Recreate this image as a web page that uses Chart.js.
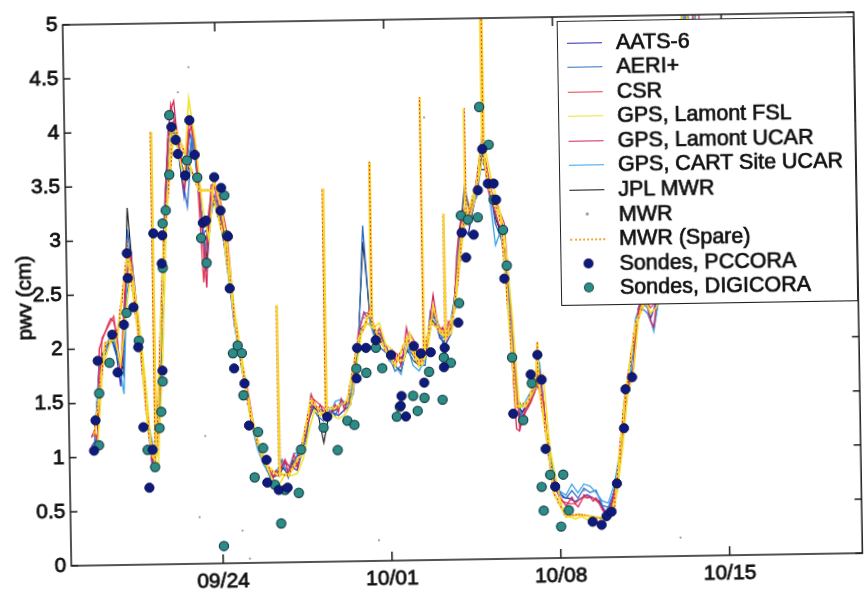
<!DOCTYPE html>
<html><head><meta charset="utf-8">
<script src="https://cdn.jsdelivr.net/npm/chart.js@4.4.1/dist/chart.umd.min.js"></script>
<style>
html,body{margin:0;padding:0;background:#fff;overflow:hidden;width:864px;height:589px;}
#wrap{position:absolute;left:0;top:0;width:864px;height:589px;transform:rotate(-0.92deg);transform-origin:432px 294px;}
#c{position:absolute;left:0;top:0;}
#legend{position:absolute;left:561px;top:23px;width:297px;height:285px;box-sizing:border-box;border:1.5px solid #222;background:#fff;font-family:"Liberation Sans",Arial,Helvetica,sans-serif;font-size:21.5px;color:#111;padding-top:8.5px;-webkit-text-stroke:0.7px #111;}
.row{height:24.6px;line-height:24.6px;position:relative;white-space:nowrap;}
.samp{position:absolute;left:9px;top:12px;width:35px;height:0;}
.dot{position:absolute;border-radius:50%;}
.txt{position:absolute;left:58px;top:0;}
</style></head><body>
<div id="wrap"><canvas id="c" width="864" height="589"></canvas><div id="legend"></div></div>
<script>
// ---------- axis / labels ----------
const xTickDays = [267, 274, 281, 288];          // day of year
const xTickLabels = ['09/24', '10/01', '10/08', '10/15'];
const yTickValues = [0, 0.5, 1, 1.5, 2, 2.5, 3, 3.5, 4, 4.5, 5];
const yTitle = 'pwv (cm)';
const seriesNames = ['AATS-6', 'AERI+', 'CSR', 'GPS, Lamont FSL', 'GPS, Lamont UCAR',
  'GPS, CART Site UCAR', 'JPL MWR', 'MWR', 'MWR (Spare)', 'Sondes, PCCORA', 'Sondes, DIGICORA'];

// ---------- regularly sampled series (start day, sampling step in days) ----------
const evenStart = 261.625, oddStart = 261.75, step6h = 0.25, step3h = 0.125;

const ucarPwv = [1.18,1.25,1.15,2.0,2.08,2.15,2.22,2.28,2.25,2.1,
 1.75,2.05,2.55,2.95,2.78,2.55,2.28,2.0,1.65,1.28,
 0.95,0.93,1.2,1.7,2.4,3.0,3.5,3.98,4.2,4.28,
 3.95,3.8,3.45,3.72,4.0,4.05,3.8,3.5,2.95,2.55,
 3.15,3.5,3.5,3.35,3.25,3.05,2.85,2.55,2.25,2.1,
 1.9,1.72,1.55,1.35,1.2,1.1,1.02,0.95,0.88,0.82,
 0.78,0.85,0.8,0.9,0.95,0.82,0.9,1.0,0.88,1.0,
 1.08,1.18,1.35,1.55,1.48,1.4,1.45,1.38,1.42,1.35,
 1.4,1.45,1.38,1.5,1.4,1.5,1.45,1.62,1.9,2.1,
 2.2,2.3,2.25,2.35,2.2,2.1,2.15,2.05,2.0,1.92,
 1.95,1.85,1.9,1.8,1.95,2.15,2.0,1.9,1.95,1.85,
 1.9,1.95,2.05,2.25,2.45,2.25,2.1,2.15,2.05,2.2,
 2.15,2.35,2.8,3.05,3.2,3.25,3.1,3.2,3.35,3.5,
 3.7,3.9,3.6,3.4,3.3,3.2,3.1,3.05,2.8,2.3,
 1.75,1.2,1.18,1.3,1.38,1.42,1.48,1.52,1.6,1.72,
 1.45,1.08,0.85,0.72,0.62,0.55,0.52,0.48,0.52,0.56,
 0.5,0.47,0.52,0.58,0.55,0.56,0.52,0.55,0.5,0.44,
 0.4,0.43,0.48,0.6,0.7,0.88,1.18,1.45,1.58,1.66,
 1.72,2.1,2.28,2.36,2.4,2.33,2.18,2.12,2.32,2.38,
 2.55,2.9,3.2,3.5,3.8,4.0,4.3,4.6,5.1,5.3,4.8,4.7,5.2,5.3,4.8];

const fslPwv = [1.05,1.1,1.82,2.0,2.15,1.85,2.3,2.75,2.35,1.75,
 1.0,0.92,1.9,3.2,4.05,3.85,3.55,4.3,3.9,3.3,
 3.0,3.55,3.3,2.95,2.35,1.95,1.55,1.25,1.05,0.88,
 0.75,0.72,0.82,0.8,0.82,0.95,1.2,1.4,1.35,1.4,
 1.35,1.32,1.35,1.45,1.75,2.1,2.2,2.15,2.2,2.0,
 1.95,1.85,1.85,2.1,1.9,1.8,1.95,2.35,2.1,2.05,
 2.1,2.6,3.1,3.1,3.3,3.55,3.8,3.5,3.3,3.0,
 2.3,1.4,1.4,1.5,1.62,1.7,1.0,0.7,0.42,0.38,
 0.36,0.38,0.35,0.37,0.36,0.35,0.42,0.6,1.0,1.5,
 1.7,2.2,2.4,2.25,2.3,2.5,3.1,3.7,4.2,5.0,
 5.2,5.0,5.3];

const aatsPwv = [1.1,1.18,1.95,2.05,2.1,1.65,2.45,2.7,2.15,1.55,
 0.9,1.3,2.5,3.4,4.0,3.85,3.4,4.0,3.7,3.05,
 3.1,3.4,3.15,2.75,2.2,1.85,1.5,1.2,1.0,0.85,
 0.8,0.8,0.92,0.88,0.85,1.05,1.3,1.45,1.4,1.38,
 1.38,1.35,1.4,1.45,1.85,2.15,2.2,2.15,2.1,1.95,
 1.9,1.85,1.9,1.95,1.9,1.85,2.0,2.3,2.05,2.0,
 2.1,2.7,3.1,3.0,3.3,3.6,3.6,3.3,3.1,2.85,
 1.9,1.32,1.4,1.5,1.65,1.4,0.82,0.66,0.56,0.55,
 0.52,0.55,0.58,0.55,0.52,0.42,0.5,0.72,1.2,1.6,
 1.75,2.3,2.42,2.2,2.35,2.6];

const csrPwv = [1.2,1.2,2.1,2.2,2.3,1.8,2.6,2.85,2.3,1.7,
 0.95,1.2,2.4,3.55,4.25,4.0,3.5,4.1,3.85,2.6,
 3.25,3.55,3.35,3.05,2.3,1.9,1.6,1.25,1.05,0.9,
 0.8,0.82,0.95,0.85,0.9,1.1,1.3,1.5,1.45,1.4,
 null,null,null,null,null,null,null,null,null,null,
 1.95,1.9,1.85,2.1,2.0,1.85,2.0,2.3,2.15,2.05,
 2.15,2.6,3.15,3.15,3.35,3.65,3.7,3.4,3.25,3.1,
 2.2,1.2,1.35,1.45,1.6,1.45,
 0.85,0.62,0.52,0.5,0.5,0.55,0.56,0.55,0.5,0.4,
 0.47,0.65,1.1,1.55,1.7,2.25,2.4,2.3,2.35,2.5];

const cartPwv = [1.2,1.82,2.0,2.15,1.98,1.58,2.95,2.45,1.9,1.3,
 1.0,1.6,2.95,3.9,4.0,3.7,3.6,4.0,3.4,2.9,
 3.4,3.25,2.95,2.45,2.0,1.65,1.3,1.05,0.9,0.82,
 0.85,0.9,0.85,1.0,1.02,1.2,1.52,1.42,1.4,1.35,
 1.48,1.5,1.45,1.65,2.1,2.3,2.28,2.1,2.05,1.85,
 1.8,1.72,2.0,1.8,1.75,1.85,2.2,2.15,2.05,2.1,
 2.35,3.05,3.2,3.2,3.4,3.8,3.4,2.9,3.05,2.45,
 1.5,1.4,1.5,1.6,1.8,1.1,0.75,0.62,0.58,0.68,
 0.6,0.68,0.66,0.6,0.52,0.5,0.66,0.95,1.5,1.7,
 2.2,2.35,2.3,2.08,2.42,2.9,3.5,3.9,4.5,5.2,
 4.8,5.25];

const aeriPwv = [1.12,1.9,1.95,2.1,1.9,1.75,3.1,2.6,2.0,1.2,
 0.98,1.5,3.1,4.0,4.1,3.65,3.3,3.95,3.5,2.7,
 3.3,3.35,3.1,2.55,2.05,1.7,1.35,1.1,0.95,0.78,
 0.8,0.95,0.78,0.92,1.05,1.1,1.45,1.35,1.3,1.4,
 1.35,1.5,1.4,1.55,2.0,3.1,2.2,2.0,1.95,1.9,
 1.75,1.8,1.95,1.9,1.8,1.8,2.3,2.2,2.0,2.1,
 2.4,2.95,3.1,3.25,3.35,3.7,3.5,3.1,2.95,2.5,
 1.45,1.32,1.4,1.55,1.7,1.15,0.78,0.6,0.55,0.62,
 0.55,0.64,0.6,0.62,0.48,0.46,0.6,0.92,1.4,1.68,
 2.1,2.3,2.25,2.1,2.4,2.8,3.4,3.9,4.4,5.0,
 4.7,5.1];

const jplPwv = [1.15,1.85,2.0,2.1,1.95,1.8,3.3,2.55,1.95,1.25,
 0.95,1.55,3.0,3.95,4.05,3.7,3.55,4.0,3.45,2.8,
 3.35,3.3,3.0,2.5,2.05,1.7,1.35,1.1,0.92,0.8,
 0.8,0.88,0.82,0.95,1.0,1.15,1.45,1.4,1.1,1.38,
 1.4,1.45,1.45,1.6,2.05,2.95,2.25,2.05,2.0,1.9,
 1.8,1.75,1.95,1.85,1.8,1.9,2.25,2.15,2.05,2.1,
 2.35,2.95,3.45,3.15,3.4,3.75,3.5,3.15,3.0,2.45,
 1.45,1.35,1.45,1.6,1.75];

// ---------- irregular series (day of year, pwv cm) ----------
const spareDay = [261.75,262.25,262.75,263.25,263.75,264.0,264.26,264.28,264.30,264.75,
 265.25,265.75,266.25,266.75,267.25,267.75,268.25,268.75,269.25,269.37,
 269.39,269.41,269.75,270.25,270.75,271.25,271.35,271.37,271.39,271.75,
 272.25,272.75,273.25,273.29,273.31,273.33,273.75,274.25,274.75,275.25,
 275.43,275.45,275.47,275.75,276.25,276.34,276.36,276.38,276.75,277.25,
 277.27,277.29,277.75,277.99,278.01,278.03,278.06,278.08,278.25,278.75,
 279.25,279.75,280.1,280.16,280.2,280.5,280.75,281.25,281.75,282.25,
 282.75,283.25,283.75,284.25,284.75,285.25,285.75,286.25,286.75];
const sparePwv = [1.2,2.05,2.1,2.9,1.9,1.2,0.95,4.0,1.0,3.0,
 4.05,3.75,3.45,3.45,3.0,2.05,1.32,0.92,0.82,0.8,
 2.38,0.82,0.8,0.98,1.5,1.35,1.4,3.45,1.42,1.42,
 1.48,2.05,2.3,2.25,3.69,2.2,2.0,1.8,2.05,1.8,
 1.9,4.28,1.92,2.2,2.1,2.05,3.2,2.05,2.3,3.2,
 4.17,3.15,3.45,3.85,5.5,3.9,5.5,3.7,3.45,3.1,
 1.4,1.45,1.7,2.0,1.6,1.1,0.6,0.38,0.4,0.38,
 0.36,0.45,1.45,2.15,2.4,2.45,3.3,4.5,5.2];

const mwrDay = [262.0,263.0,264.0,265.0,265.43,265.89,266.0,266.05,266.34,267.0,
 267.82,268.0,268.11,269.0,270.0,271.0,272.0,273.0,273.47,274.0,
 275.0,275.62,276.0,277.0,278.0,279.0,280.0,281.0,282.0,283.0,284.0,285.97];
const mwrPwv = [1.85,2.0,1.25,3.95,4.36,4.59,4.1,0.43,1.18,3.3,
 0.30,1.68,0.04,0.8,0.95,1.38,1.45,2.25,0.19,1.88,
 1.85,4.09,2.2,3.0,3.85,2.4,1.55,0.58,0.62,0.45,1.68,0.17];

const pccoraDay = [261.72,261.80,261.93,262.55,262.75,263.04,263.21,263.23,263.45,263.62,
 263.78,263.99,264.15,264.32,264.61,264.65,264.69,265.14,265.31,265.39,
 265.68,265.89,266.09,266.38,266.51,266.88,267.12,267.16,267.41,267.45,
 267.58,268.00,268.16,268.86,268.88,269.35,269.72,271.41,272.65,272.69,
 273.06,273.47,274.09,274.46,274.50,274.67,275.04,275.33,275.45,275.74,
 276.28,276.32,276.90,277.10,277.27,277.60,277.80,278.01,278.22,278.46,
 278.55,278.84,279.12,279.87,280.16,280.32,280.44,280.81,282.34,282.71,
 282.92,283.13,283.37,283.70,283.79,284.07];
const pccoraPwv = [1.06,1.34,1.89,2.13,1.78,2.22,2.88,2.65,2.38,2.01,
 1.27,0.71,1.06,3.06,1.79,2.78,3.04,4.04,3.92,3.79,
 3.59,4.10,3.78,3.15,3.17,3.57,3.26,3.47,3.02,2.54,
 1.80,1.66,1.27,0.95,0.74,0.67,0.69,1.34,1.69,1.97,
 1.97,2.04,1.90,1.43,1.52,1.33,1.98,1.91,1.64,1.92,
 1.78,1.96,2.19,3.02,2.79,3.00,3.41,3.79,3.47,3.47,
 3.32,2.59,1.34,1.70,1.88,1.65,1.01,0.66,0.33,0.30,
 0.38,0.42,0.68,1.19,1.55,1.66];

const digicoraDay = [261.93,261.97,262.42,263.16,263.65,263.94,264.24,264.45,264.53,264.61,
 264.69,264.71,264.85,265.02,265.06,265.76,266.18,266.30,266.51,267.04,
 267.29,267.37,267.54,267.74,267.91,267.95,268.36,268.53,268.73,269.19,
 269.43,269.61,270.18,270.30,271.25,271.82,272.24,272.53,272.65,273.06,
 273.47,273.72,274.29,274.42,274.98,275.16,275.45,275.66,276.20,276.28,
 276.57,276.95,277.08,277.37,277.78,277.91,278.28,278.45,278.82,278.95,
 279.11,279.53,279.91,280.25,280.32,280.61,281.03,281.15,281.36];
const digicoraPwv = [1.11,1.59,1.87,2.33,2.07,1.06,0.90,1.26,1.41,1.69,
 2.74,3.15,3.27,3.60,4.15,3.73,3.57,3.01,2.78,0.16,
 3.40,3.03,1.94,2.01,1.94,1.55,0.79,1.21,1.06,0.72,
 0.36,0.67,0.64,1.04,1.24,1.03,1.30,1.26,1.78,1.74,
 1.97,1.78,1.33,1.42,1.52,1.38,1.50,1.74,1.48,1.87,
 1.82,2.37,3.18,3.14,3.16,4.18,3.83,3.32,3.04,2.71,
 1.86,1.28,1.62,0.66,0.44,0.77,0.29,0.77,0.44];

// ---------- helpers ----------
const seq = (start, step, vals) => vals.map((v, i) => ({x: start + i * step, y: v}));
const pairs = (ts, vs) => ts.map((t, i) => ({x: t, y: vs[i]}));

const COL = {
  aats: '#2a2ab4', aeri: '#2e6ec6', csr: '#ec3c4c', fsl: '#f3e12c', ucar: '#d4245a',
  cart: '#38a2e8', jpl: '#111111', mwr: '#9a9a9a', spare: '#f0a83a', pcc: '#0f1b7c', dig: '#2e8c86'
};

const canvas = document.getElementById('c');
const ctx0 = canvas.getContext('2d');
// MWR (Spare) stroke: yellow with a red dotted edge, as printed
const pc = document.createElement('canvas'); pc.width = 3; pc.height = 4;
const pg = pc.getContext('2d');
pg.fillStyle = '#f4d62a'; pg.fillRect(0, 0, 3, 4);
pg.fillStyle = '#e8384e'; pg.fillRect(2, 0, 1, 2);
const sparePattern = ctx0.createPattern(pc, 'repeat');

const lineDs = (label, data, color, extra) => Object.assign({
  label, data, borderColor: color, backgroundColor: color, borderWidth: 1.3,
  pointRadius: 0, tension: 0, fill: false, spanGaps: false
}, extra || {});

const datasets = [
  {label: seriesNames[9], data: pairs(pccoraDay, pccoraPwv), showLine: false,
   pointRadius: 4.6, pointBackgroundColor: COL.pcc, pointBorderColor: '#0a1152', pointBorderWidth: 1},
  {label: seriesNames[10], data: pairs(digicoraDay, digicoraPwv), showLine: false,
   pointRadius: 4.6, pointBackgroundColor: COL.dig, pointBorderColor: '#16404a', pointBorderWidth: 1.2},
  {label: seriesNames[7], data: pairs(mwrDay, mwrPwv), showLine: false,
   pointRadius: 1.1, pointBackgroundColor: COL.mwr, pointBorderWidth: 0},
  lineDs(seriesNames[8], pairs(spareDay, sparePwv), sparePattern, {borderWidth: 2.4}),
  lineDs(seriesNames[3], seq(evenStart, step6h, fslPwv), COL.fsl, {borderWidth: 1.6}),
  lineDs(seriesNames[4], seq(evenStart, step3h, ucarPwv), COL.ucar),
  lineDs(seriesNames[2], seq(evenStart, step6h, csrPwv), COL.csr),
  lineDs(seriesNames[5], seq(oddStart, step6h, cartPwv), COL.cart),
  lineDs(seriesNames[1], seq(oddStart, step6h, aeriPwv), COL.aeri),
  lineDs(seriesNames[0], seq(evenStart, step6h, aatsPwv), COL.aats),
  lineDs(seriesNames[6], seq(oddStart, step6h, jplPwv), COL.jpl, {borderWidth: 1.1})
];

const FONT = '"Liberation Sans", Arial, Helvetica, sans-serif';

const boxPlugin = {
  id: 'box',
  afterDatasetsDraw(chart) {
    const {ctx, chartArea: a, scales: {x, y}} = chart;
    ctx.save();
    ctx.strokeStyle = '#1a1a1a'; ctx.lineWidth = 1.5;
    ctx.strokeRect(a.left, a.top, a.right - a.left, a.bottom - a.top);
    ctx.beginPath();
    x.ticks.forEach(t => {
      const px = x.getPixelForValue(t.value);
      ctx.moveTo(px, a.bottom); ctx.lineTo(px, a.bottom - 9);
      ctx.moveTo(px, a.top); ctx.lineTo(px, a.top + 9);
    });
    y.ticks.forEach(t => {
      const py = y.getPixelForValue(t.value);
      ctx.moveTo(a.left, py); ctx.lineTo(a.left + 7, py);
      ctx.moveTo(a.right, py); ctx.lineTo(a.right - 7, py);
    });
    ctx.stroke();
    // y-axis title
    ctx.translate(25.5, (a.top + a.bottom) / 2 + 2);
    ctx.rotate(-Math.PI / 2);
    ctx.font = '21px ' + FONT;
    ctx.textAlign = 'center'; ctx.textBaseline = 'middle';
    ctx.fillStyle = '#111'; ctx.strokeStyle = '#111'; ctx.lineWidth = 0.8;
    ctx.fillText(yTitle, 0, 0); ctx.strokeText(yTitle, 0, 0);
    ctx.restore();
  }
};

const tickFont = {family: FONT, size: 21};
new Chart(canvas, {
  type: 'line',
  data: {datasets},
  options: {
    responsive: false, animation: false, devicePixelRatio: 1, events: [],
    layout: {padding: {left: 0, right: 2, top: 19, bottom: 0}},
    plugins: {legend: {display: false}, tooltip: {enabled: false}},
    scales: {
      x: {
        type: 'linear', min: 260.7, max: 293.5,
        grid: {display: false, drawTicks: false, tickLength: 0}, border: {display: false},
        afterBuildTicks: s => { s.ticks = xTickDays.map(v => ({value: v})); },
        afterFit: s => { s.height = 29; },
        ticks: {
          autoSkip: false, maxRotation: 0, padding: 6, color: '#111', font: tickFont,
          textStrokeColor: '#111', textStrokeWidth: 0.8,
          callback: v => { const k = xTickDays.indexOf(v); return k >= 0 ? xTickLabels[k] : ''; }
        }
      },
      y: {
        type: 'linear', min: 0, max: 5,
        grid: {display: false, drawTicks: false, tickLength: 0}, border: {display: false},
        afterBuildTicks: s => { s.ticks = yTickValues.map(v => ({value: v})); },
        afterFit: s => { s.width = 67; },
        ticks: {padding: 5, color: '#111', font: tickFont, textStrokeColor: '#111', textStrokeWidth: 0.8,
                callback: v => String(v)}
      }
    }
  },
  plugins: [boxPlugin]
});

// ---------- legend (inside the axes, upper right) ----------
const legendStyle = [
  {line: COL.aats}, {line: COL.aeri}, {line: COL.csr}, {line: COL.fsl}, {line: COL.ucar},
  {line: COL.cart}, {line: COL.jpl}, {dot: COL.mwr, r: 1.2}, {dotted: COL.spare},
  {dot: COL.pcc, r: 4, edge: '#0a1152'}, {dot: COL.dig, r: 4, edge: '#16404a'}
];
const leg = document.getElementById('legend');
seriesNames.forEach((name, i) => {
  const st = legendStyle[i];
  const row = document.createElement('div'); row.className = 'row';
  const s = document.createElement('div'); s.className = 'samp';
  if (st.line) s.style.borderTop = '1.4px solid ' + st.line;
  if (st.dotted) s.style.borderTop = '2px dotted ' + st.dotted;
  if (st.dot) {
    const d = document.createElement('div'); d.className = 'dot';
    d.style.width = d.style.height = (st.r * 2) + 'px';
    d.style.left = (17.5 - st.r) + 'px'; d.style.top = (-st.r) + 'px';
    d.style.background = st.dot;
    if (st.edge) { d.style.boxShadow = '0 0 0 1px ' + st.edge; }
    s.appendChild(d);
  }
  const t = document.createElement('span'); t.className = 'txt'; t.textContent = name;
  row.appendChild(s); row.appendChild(t); leg.appendChild(row);
});
</script>
</body></html>
